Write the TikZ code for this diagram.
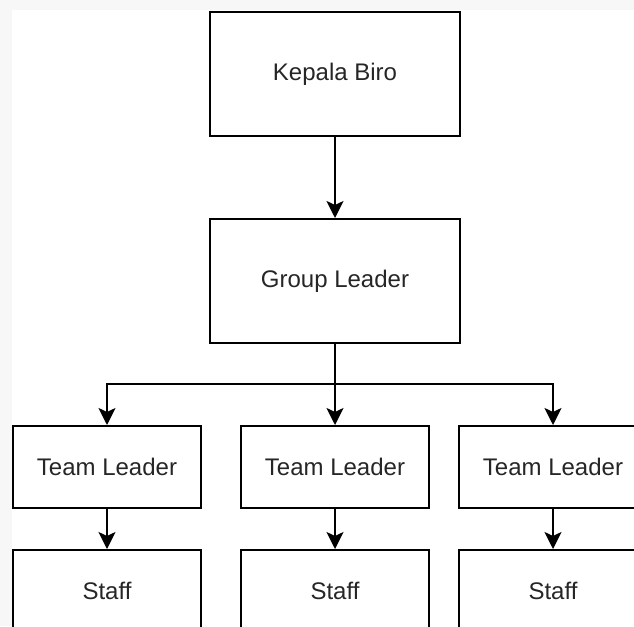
\documentclass[tikz,border=0pt]{standalone}
\usepackage{fontspec}
\setmainfont{Liberation Sans}
\usetikzlibrary{arrows.meta}

\begin{document}
\begin{tikzpicture}[x=1pt, y=-1pt,
  every node/.style={font=\fontsize{24}{28}\selectfont, text=black!85},
  box/.style={rectangle, draw, line width=2pt, fill=white, inner sep=0pt},
  bigbox/.style={box, minimum width=250pt, minimum height=124pt},
  smallbox/.style={box, minimum width=188pt, minimum height=82pt},
  link/.style={line width=2pt, -{Stealth[width=17pt, length=17pt, inset=4pt]}}]
  % Background
  \useasboundingbox (0,0) rectangle (634,626);
  \clip (0,0) rectangle (634,626);
  \fill[black!3] (0,0) rectangle (634,626);
  \fill[white] (12,10) rectangle (634,626);

  % Nodes
  \node[bigbox] (kb) at (335,74) {Kepala Biro};
  \node[bigbox] (gl) at (335,281) {Group Leader};
  \node[smallbox] (tl1) at (107,467) {Team Leader};
  \node[smallbox] (tl2) at (335,467) {Team Leader};
  \node[smallbox] (tl3) at (553,467) {Team Leader};
  \node[smallbox] (st1) at (107,591) {Staff};
  \node[smallbox] (st2) at (335,591) {Staff};
  \node[smallbox] (st3) at (553,591) {Staff};
  \coordinate (split) at (335,384);

  % Links
  \draw[link] (kb) -- (gl);
  \draw[line width=2pt] (gl.south) -- (split);
  \draw[link] (split) -| (tl1.north);
  \draw[link] (split) -- (tl2.north);
  \draw[link] (split) -| (tl3.north);
  \draw[link] (tl1) -- (st1);
  \draw[link] (tl2) -- (st2);
  \draw[link] (tl3) -- (st3);
\end{tikzpicture}
\end{document}
